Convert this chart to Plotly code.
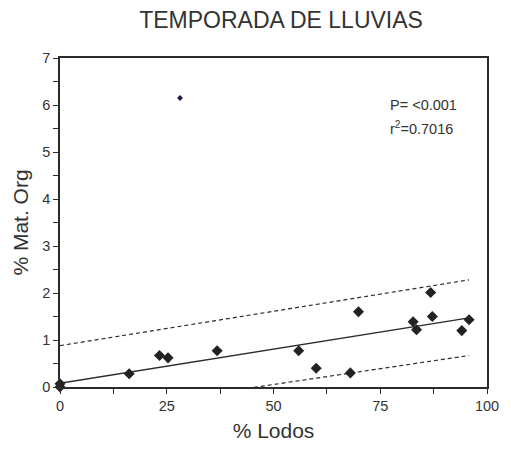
import plotly.graph_objects as go

# Muestras: porcentaje de lodos vs. materia orgánica
lodos = [0.0, 0.0, 16.2, 23.3, 25.3, 36.8, 55.9, 60.0, 68.0, 69.9, 82.7, 83.5, 86.8, 87.2, 94.1, 95.8]
mat_org = [0.0, 0.07, 0.28, 0.67, 0.62, 0.77, 0.77, 0.40, 0.30, 1.60, 1.39, 1.22, 2.01, 1.50, 1.20, 1.43]

# Valor atípico
atipico_x = [28.1]
atipico_y = [6.15]

# Recta de regresión y bandas de predicción (extremos)
recta_x = [0.0, 95.8]
recta_y = [0.08, 1.47]
banda_sup_y = [0.88, 2.28]
banda_inf_y = [-0.62, 0.67]

x_ticks = [0, 25, 50, 75, 100]
y_ticks = [0, 1, 2, 3, 4, 5, 6, 7]

ink = "#2b2b2b"
text_col = "#333333"
font = "Liberation Sans, Arial, sans-serif"

fig = go.Figure()

fig.add_trace(go.Scatter(x=recta_x, y=banda_sup_y, mode="lines",
                         line=dict(color=ink, width=1.2, dash="4px,3px"), hoverinfo="skip"))
fig.add_trace(go.Scatter(x=recta_x, y=banda_inf_y, mode="lines",
                         line=dict(color=ink, width=1.2, dash="4px,3px"), hoverinfo="skip"))
fig.add_trace(go.Scatter(x=recta_x, y=recta_y, mode="lines",
                         line=dict(color=ink, width=1.3), hoverinfo="skip"))
fig.add_trace(go.Scatter(x=lodos, y=mat_org, mode="markers", cliponaxis=False,
                         marker=dict(symbol="diamond", size=8.5, color="#222222")))
fig.add_trace(go.Scatter(x=atipico_x, y=atipico_y, mode="markers", cliponaxis=False,
                         marker=dict(symbol="diamond", size=4.5, color="#1c1c50")))

axis_common = dict(
    showline=True, linecolor=ink, linewidth=1.5, mirror=True,
    ticks="outside", ticklen=5, tickwidth=1.2, tickcolor=ink,
    showgrid=False, zeroline=False,
    tickfont=dict(family=font, size=14.5, color=text_col),
)

fig.update_layout(
    width=511, height=451,
    margin=dict(l=60, r=14, t=58, b=63),
    paper_bgcolor="white", plot_bgcolor="white",
    showlegend=False,
    title=dict(text="TEMPORADA DE LLUVIAS", x=0.55, xanchor="center",
               y=0.955, yanchor="middle",
               font=dict(family=font, size=23, color=text_col)),
    xaxis=dict(range=[0, 100], tickvals=x_ticks, ticktext=[str(v) for v in x_ticks],
               minor=dict(ticks="outside", ticklen=5, tickwidth=1.2, tickcolor=ink, dtick=12.5, tick0=0),
               title=dict(text="% Lodos", font=dict(family=font, size=21, color=text_col), standoff=10),
               **axis_common),
    yaxis=dict(range=[0, 7], tickvals=y_ticks, ticktext=[str(v) for v in y_ticks],
               minor=dict(ticks="outside", ticklen=5, tickwidth=1.2, tickcolor=ink, dtick=0.5, tick0=0),
               ticklabelstandoff=0,
               title=dict(text="% Mat. Org", font=dict(family=font, size=21, color=text_col), standoff=8),
               **axis_common),
    annotations=[
        dict(x=76.7, y=6.0, xref="x", yref="y", xanchor="left", yanchor="middle",
             text="P= <0.001", showarrow=False,
             font=dict(family=font, size=14.5, color=text_col)),
        dict(x=76.7, y=5.52, xref="x", yref="y", xanchor="left", yanchor="middle",
             text="r<sup>2</sup>=0.7016", showarrow=False,
             font=dict(family=font, size=14.5, color=text_col)),
    ],
)

fig.write_html("out.html")
